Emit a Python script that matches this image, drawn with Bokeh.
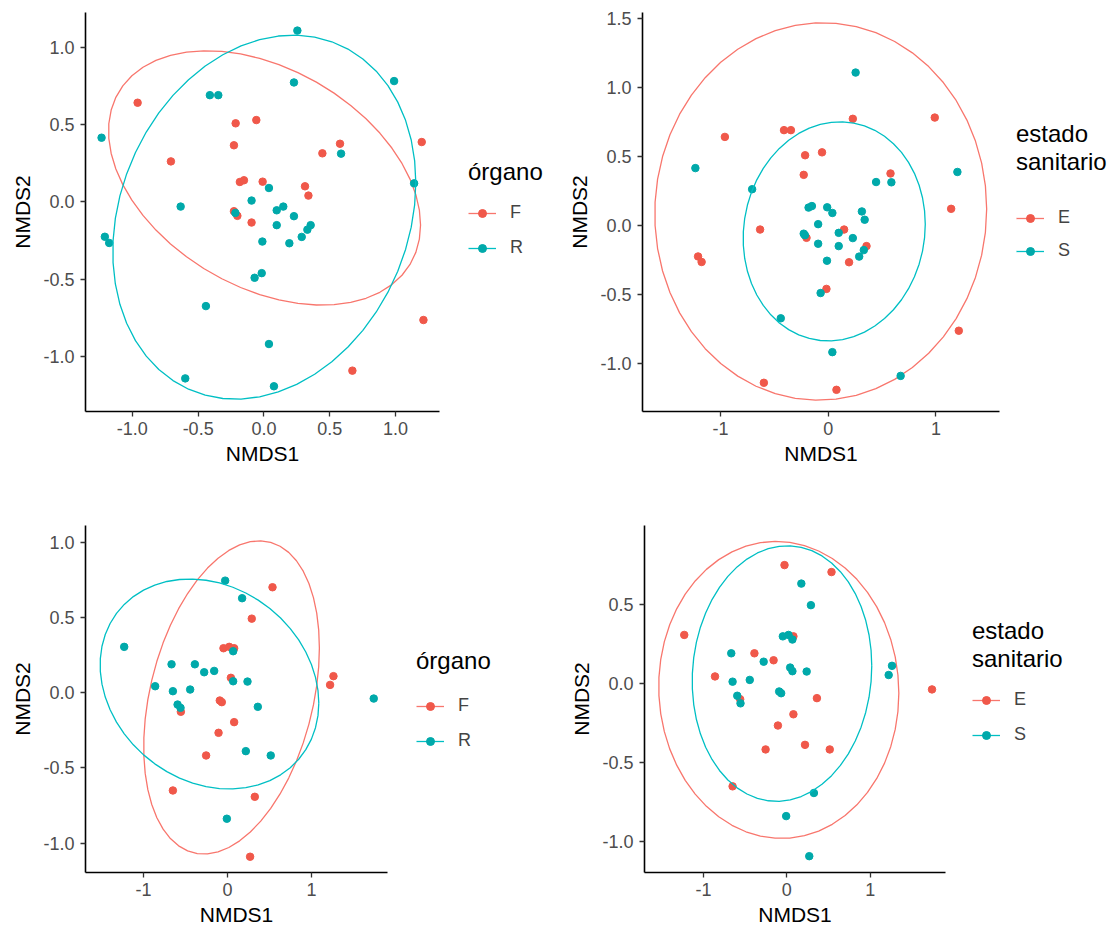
import numpy as np
from bokeh.plotting import figure
from bokeh.models import Legend, LegendItem, FixedTicker, PrintfTickFormatter, Range1d
from bokeh.layouts import column, row
from bokeh.embed import file_html
from bokeh.resources import INLINE

# ---------------- data: upper ordination (NMDS of both upper panels) ----------------
top_nmds1 = [0.254, 0.989, 0.228, -0.411, -0.347, -1.234, 0.586, 1.141, 0.038, -0.633,
             -0.094, 0.097, 0.147, 0.228, -0.217, 0.097, 0.355, 0.330, 0.287, -1.209,
             -1.176, -0.012, 0.193, -0.017, -0.071, -0.441, 0.038, -0.598, 0.076,
             -0.960, -0.058, -0.215, -0.228, 0.578, 0.444, 1.199, -0.707, -0.183, -0.152,
             -0.010, 0.312, 0.338, -0.228, -0.202, -0.094, 1.212, 0.672]
top_nmds2 = [1.107, 0.781, 0.772, 0.690, 0.690, 0.415, 0.312, 0.120, 0.090, -0.030,
             0.009, -0.054, -0.030, -0.092, -0.071, -0.150, -0.150, -0.179, -0.226, -0.225,
             -0.265, -0.256, -0.267, -0.460, -0.490, -0.673, -0.918, -1.140, -1.191,
             0.641, 0.529, 0.508, 0.366, 0.376, 0.314, 0.387, 0.262, 0.129, 0.140,
             0.131, 0.101, 0.041, -0.060, -0.090, -0.133, -0.763, -1.090]
top_organo = ["R"] * 29 + ["F"] * 18
top_estado = ["S", "E", "E", "E", "E", "S", "S", "E", "S", "E",
              "S", "S", "E", "S", "S", "S", "E", "S", "S", "E",
              "E", "S", "E", "E", "S", "S", "S", "E", "E",
              "E", "E", "E", "E", "E", "S", "S", "S", "S", "S",
              "S", "S", "S", "S", "E", "S", "E", "S"]

# ---------------- data: lower ordination (NMDS of both lower panels) ----------------
bot_nmds1 = [-0.028, 0.174, -1.231, -0.667, -0.389, -0.278, -0.159, 0.067, 0.238, -0.862,
             -0.651, -0.445, -0.595, -0.560, 0.361, 0.067, 0.218, 0.515, -0.008, 1.742,
             0.536, 0.289, -0.048, 0.020, 0.079, 0.040, 1.262, 1.222, -0.092, -0.068,
             -0.556, 0.079, -0.107, -0.255, -0.651, 0.325, 0.269]
bot_nmds2 = [0.747, 0.630, 0.306, 0.190, 0.190, 0.137, 0.146, 0.077, 0.075, 0.044,
             0.011, 0.022, -0.078, -0.100, -0.093, 0.277, -0.388, -0.417, -0.838, -0.038,
             0.703, 0.494, 0.297, 0.306, 0.297, 0.100, 0.111, 0.053, -0.051, -0.062,
             -0.126, -0.195, -0.266, -0.417, -0.650, -0.692, -1.091]
bot_organo = ["R"] * 20 + ["F"] * 17
bot_estado = ["E", "S", "E", "S", "E", "S", "E", "S", "S", "E",
              "S", "S", "S", "E", "E", "S", "E", "E", "S", "E",
              "E", "S", "S", "S", "E", "S", "S", "S", "S", "S",
              "S", "E", "E", "E", "E", "S", "S"]

organo_levels = ["F", "R"]
estado_levels = ["E", "S"]

# tick values
ticks_half_tl_x = [-1.0, -0.5, 0.0, 0.5, 1.0]
ticks_half_tl_y = [-1.0, -0.5, 0.0, 0.5, 1.0]
ticks_int = [-1, 0, 1]
ticks_half_tr_y = [-1.0, -0.5, 0.0, 0.5, 1.0, 1.5]
ticks_half_bl_y = [-1.0, -0.5, 0.0, 0.5, 1.0]
ticks_half_br_y = [-1.0, -0.5, 0.0, 0.5]

LINE_COLS = ["#F8766D", "#00BFC4"]
PT_COLS = ["#F0584A", "#00A9AA"]
FONT = "Liberation Sans"

# frame borders shared by the plots of each row (Bokeh aligns frames in a row)
ROW1_TOP, ROW1_BOTTOM = 12, 89
ROW2_TOP, ROW2_BOTTOM = 25, 62


def stat_ellipse(x, y, level=0.95, segments=51, nu=5, maxit=25, tol=0.01):
    """ggplot2 stat_ellipse(type = 't'): MASS::cov.trob + F-quantile radius."""
    X = np.column_stack([x, y]).astype(float)
    n, p = X.shape
    loc = X.mean(axis=0)
    w = np.ones(n)
    Xc = X - loc
    for _ in range(maxit):
        w0 = w
        Xc = X - loc
        S = (Xc * (w / w.sum())[:, None]).T @ Xc
        Q = np.sum((Xc @ np.linalg.inv(S)) * Xc, axis=1)
        w = (nu + p) / (nu + Q)
        loc = (w[:, None] * X).sum(axis=0) / w.sum()
        if np.all(np.abs(w - w0) < tol):
            break
    cov = (Xc * w[:, None]).T @ Xc / n
    dfd = n - 1
    fq = dfd / 2.0 * ((1 - level) ** (-2.0 / dfd) - 1)
    radius = np.sqrt(2 * fq)
    R = np.linalg.cholesky(cov).T
    t = np.arange(segments + 1) * 2 * np.pi / segments
    circ = np.column_stack([np.cos(t), np.sin(t)])
    ell = loc + radius * (circ @ R)
    return ell[:, 0], ell[:, 1]


def panel(xs, ys, groups, levels, xr, yr, xticks, yticks, xfmt, yfmt,
          w, h, bl, bt, br, bb):
    p = figure(width=w, height=h, min_border_left=bl, min_border_top=bt,
               min_border_right=br, min_border_bottom=bb,
               x_range=Range1d(*xr), y_range=Range1d(*yr),
               output_backend="svg", toolbar_location=None,
               background_fill_color="white", border_fill_color="white")
    p.outline_line_color = None
    p.xgrid.visible = False
    p.ygrid.visible = False
    xs = np.array(xs); ys = np.array(ys); groups = np.array(groups)
    for lev, lc, pc in zip(levels, LINE_COLS, PT_COLS):
        m = groups == lev
        p.scatter(xs[m], ys[m], size=7.5, color=pc, line_color=pc)
        ex, ey = stat_ellipse(xs[m], ys[m])
        p.line(ex, ey, line_color=lc, line_width=1.3)
    for ax, tk, fmt in ((p.xaxis, xticks, xfmt), (p.yaxis, yticks, yfmt)):
        ax.ticker = FixedTicker(ticks=tk)
        ax.formatter = PrintfTickFormatter(format=fmt)
        ax.axis_line_color = "black"
        ax.axis_line_width = 1.6
        ax.major_tick_line_color = "#333333"
        ax.major_tick_line_width = 1.3
        ax.major_tick_out = 5
        ax.major_tick_in = 0
        ax.minor_tick_out = 0
        ax.minor_tick_in = 0
        ax.major_label_text_font = FONT
        ax.major_label_text_font_size = "18px"
        ax.major_label_text_color = "#4D4D4D"
        ax.axis_label_text_font = FONT
        ax.axis_label_text_font_size = "21px"
        ax.axis_label_text_font_style = "normal"
        ax.axis_label_text_color = "black"
    p.xaxis.axis_label = "NMDS1"
    p.yaxis.axis_label = "NMDS2"
    p.xaxis.major_label_standoff = 5
    p.yaxis.major_label_standoff = 6
    p.xaxis.axis_label_standoff = 4
    p.yaxis.axis_label_standoff = 6
    return p


def legend_box(title, levels, w, h, bt, bb, loc, spacing=14, title_standoff=16):
    """Stand-alone figure that only carries the legend (keys: path + point)."""
    q = figure(width=w, height=h, x_range=Range1d(0, 1), y_range=Range1d(0, 1),
               x_axis_location=None, y_axis_location=None,
               min_border_left=0, min_border_top=bt,
               min_border_right=0, min_border_bottom=bb,
               output_backend="svg", toolbar_location=None,
               background_fill_color="white", border_fill_color="white")
    q.outline_line_color = None
    q.xgrid.visible = False
    q.ygrid.visible = False
    items = []
    for lev, lc, pc in zip(levels, LINE_COLS, PT_COLS):
        lr = q.line([np.nan], [np.nan], line_color=lc, line_width=1.3)
        sr = q.scatter([np.nan], [np.nan], size=7.5, color=pc, line_color=pc)
        items.append(LegendItem(label=lev, renderers=[lr, sr]))
    leg = Legend(items=items, title=title, location=loc,
                 border_line_color=None, background_fill_alpha=0,
                 label_text_font=FONT, label_text_font_size="18px",
                 title_text_font=FONT, title_text_font_size="24px",
                 title_text_font_style="normal", title_text_color="black",
                 glyph_width=28, glyph_height=20, label_height=20,
                 label_standoff=14, spacing=spacing, padding=6, margin=0,
                 title_standoff=title_standoff)
    q.add_layout(leg, "center")
    return q


p_tl = panel(top_nmds1, top_nmds2, top_organo, organo_levels,
             (-1.356, 1.334), (-1.354, 1.224), ticks_half_tl_x, ticks_half_tl_y,
             "%.1f", "%.1f", 444, 500, 85, ROW1_TOP, 5, ROW1_BOTTOM)
l_tl = legend_box("órgano", organo_levels, 116, 500, ROW1_TOP, ROW1_BOTTOM, (24, 153))
p_tr = panel(top_nmds1, top_nmds2, top_estado, estado_levels,
             (-1.725, 1.59), (-1.348, 1.542), ticks_int, ticks_half_tr_y,
             "%d", "%.1f", 444, 500, 82, ROW1_TOP, 5, ROW1_BOTTOM)
l_tr = legend_box("estado\nsanitario", estado_levels, 112, 500, ROW1_TOP, ROW1_BOTTOM,
                  (12, 150), spacing=12, title_standoff=31)
p_bl = panel(bot_nmds1, bot_nmds2, bot_organo, organo_levels,
             (-1.692, 1.906), (-1.196, 1.114), ticks_int, ticks_half_bl_y,
             "%d", "%.1f", 392, 434, 85, ROW2_TOP, 5, ROW2_BOTTOM)
l_bl = legend_box("órgano", organo_levels, 168, 434, ROW2_TOP, ROW2_BOTTOM, (24, 121),
                  title_standoff=20)
p_br = panel(bot_nmds1, bot_nmds2, bot_estado, estado_levels,
             (-1.708, 1.904), (-1.194, 0.997), ticks_int, ticks_half_br_y,
             "%d", "%.1f", 390, 434, 84, ROW2_TOP, 5, ROW2_BOTTOM)
l_br = legend_box("estado\nsanitario", estado_levels, 166, 434, ROW2_TOP, ROW2_BOTTOM,
                  (22, 127))

layout = column(row(p_tl, l_tl, p_tr, l_tr), row(p_bl, l_bl, p_br, l_br))
open("out.html", "w").write(file_html(layout, INLINE))
